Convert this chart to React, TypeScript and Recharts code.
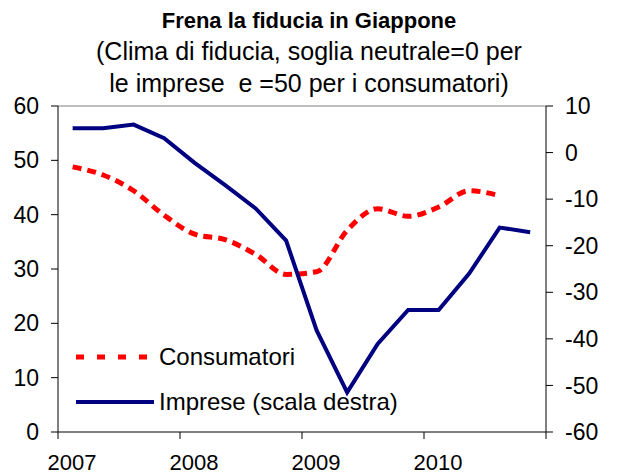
import React from "react"
import {
  LineChart,
  Line,
  XAxis,
  YAxis,
  Legend,
  ReferenceLine,
} from "recharts"

// ====== DATI ======
const periodi = [
  2007.12, 2007.37, 2007.62, 2007.87,
  2008.12, 2008.37, 2008.62, 2008.87,
  2009.12, 2009.37, 2009.62, 2009.87,
  2010.12, 2010.37, 2010.62, 2010.87,
]

// scala sinistra (neutrale = 50)
const consumatori = [
  48.8, 47.3, 44.4, 39.9, 36.4, 35.4, 32.7, 29.0,
  29.5, 37.1, 41.1, 39.7, 41.4, 44.4, 43.5,
]

// scala destra (neutrale = 0)
const imprese = [
  5.2, 5.2, 6.0, 3.1, -2.2, -7.0, -12.0, -18.9,
  -38.2, -51.5, -41.1, -33.8, -33.8, -26.0, -16.1, -17.1,
]

const anniTicks = [2007, 2008, 2009, 2010, 2011]
const ticksSinistra = [0, 10, 20, 30, 40, 50, 60]
const ticksDestra = [-60, -50, -40, -30, -20, -10, 0, 10]

const titolo = "Frena la fiducia in Giappone"
const sottotitolo = [
  "(Clima di fiducia, soglia neutrale=0 per",
  "le imprese  e =50 per i consumatori)",
]

const FONT = '"Liberation Sans", Arial, Helvetica, sans-serif'

const rows = periodi.map((x, i) => ({
  x,
  consumatori: i < consumatori.length ? consumatori[i] : null,
  imprese: imprese[i],
}))

// etichetta anno spostata sul primo trimestre, come nell'originale
function YearTick(props: any) {
  const { x, y, payload } = props
  if (payload.value === 2011) return null
  return (
    <text
      x={x + 14}
      y={y}
      dy="0.71em"
      textAnchor="middle"
      fill="#000"
      fontSize={22}
      fontFamily={FONT}
    >
      {payload.value}
    </text>
  )
}

function LegendaBox(props: any) {
  const items = props.payload || []
  return (
    <div style={{ fontFamily: FONT, fontSize: 24, color: "#000" }}>
      {items.map((it: any) => {
        const dash = it.payload?.strokeDasharray
        const w = it.payload?.strokeWidth ?? 4
        return (
          <div
            key={it.value}
            style={{ display: "flex", alignItems: "center", height: 45 }}
          >
            <svg width={80} height={10} style={{ marginRight: 3 }}>
              <line
                x1={0}
                y1={5}
                x2={78}
                y2={5}
                stroke={it.color}
                strokeWidth={w}
                strokeDasharray={dash ? "8 13" : undefined}
              />
            </svg>
            <span style={{ whiteSpace: "nowrap" }}>{it.value}</span>
          </div>
        )
      })}
    </div>
  )
}

export default function App() {
  const tickStyle = { fill: "#000", fontSize: 23, fontFamily: FONT }
  return (
    <div
      style={{
        position: "absolute",
        left: 0,
        top: 0,
        width: 617,
        height: 475,
        background: "#fff",
        fontFamily: FONT,
      }}
    >
      <svg
        width={617}
        height={100}
        style={{ position: "absolute", left: 0, top: 0 }}
      >
        <text
          x={309}
          y={28}
          textAnchor="middle"
          fontSize={22}
          fontWeight="bold"
          fontFamily={FONT}
        >
          {titolo}
        </text>
        {sottotitolo.map((riga, i) => (
          <text
            key={i}
            x={309}
            y={60 + i * 32}
            textAnchor="middle"
            fontSize={25}
            fontFamily={FONT}
            style={{ whiteSpace: "pre" }}
          >
            {riga}
          </text>
        ))}
      </svg>

      <LineChart
        width={617}
        height={475}
        data={rows}
        margin={{ top: 106, right: 0, bottom: 0, left: 0 }}
        style={{ position: "absolute", left: 0, top: 0 }}
      >
        <XAxis
          dataKey="x"
          type="number"
          domain={[2007, 2011]}
          ticks={anniTicks}
          interval={0}
          height={43}
          tickSize={7}
          tickMargin={15}
          stroke="#000"
          tick={<YearTick />}
        />
        <YAxis
          yAxisId="sx"
          domain={[0, 60]}
          ticks={ticksSinistra}
          interval={0}
          width={58}
          tickSize={7}
          tickMargin={12}
          stroke="#000"
          tick={tickStyle}
        />
        <YAxis
          yAxisId="dx"
          orientation="right"
          domain={[-60, 10]}
          ticks={ticksDestra}
          interval={0}
          width={71}
          tickSize={7}
          tickMargin={12}
          stroke="#000"
          tick={tickStyle}
        />
        <ReferenceLine yAxisId="sx" y={60} stroke="#808080" strokeWidth={1} />
        <Line
          yAxisId="sx"
          dataKey="consumatori"
          name="Consumatori"
          type="monotone"
          stroke="#ff0000"
          strokeWidth={5}
          strokeDasharray="9 6"
          dot={false}
          isAnimationActive={false}
        />
        <Line
          yAxisId="dx"
          dataKey="imprese"
          name="Imprese (scala destra)"
          type="linear"
          stroke="#000080"
          strokeWidth={4}
          dot={false}
          isAnimationActive={false}
        />
        <Legend
          layout="vertical"
          align="center"
          verticalAlign="middle"
          content={<LegendaBox />}
          wrapperStyle={{ left: 76, top: 334, width: 340 }}
        />
      </LineChart>
    </div>
  )
}
